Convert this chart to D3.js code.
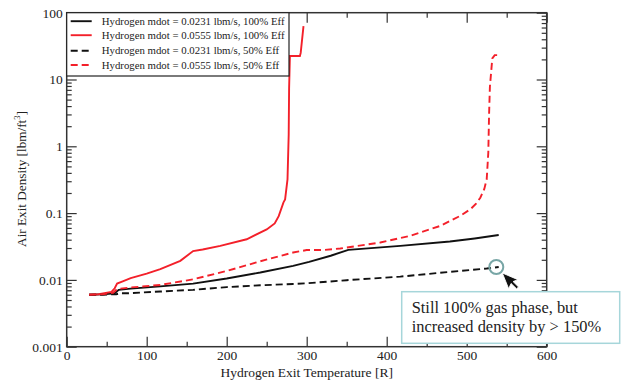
<!DOCTYPE html>
<html>
<head>
<meta charset="utf-8">
<script src="https://cdn.jsdelivr.net/npm/d3@7"></script>
<style>
  body { margin: 0; background: #fff; }
  svg, svg text { font-family: "Liberation Serif", "Times New Roman", Times, "DejaVu Serif", serif; }
</style>
</head>
<body>
<svg width="625" height="384">
  <g id="vis"></g>
</svg>
<script>
// series: hydrogen exit temperature [R] vs air exit density [lbm/ft^3]
const tempA100 = [28, 45, 60, 65, 80, 117, 158, 200, 242, 283, 303, 330, 352, 417, 479, 510, 540]
const densA100 = [0.006, 0.0061, 0.0063, 0.0071, 0.0074, 0.008, 0.0088, 0.0105, 0.0129, 0.0162, 0.0186, 0.023, 0.0281, 0.0323, 0.0375, 0.0417, 0.047]

const tempB100 = [28, 40, 56, 60, 63, 70, 80, 100, 117, 142, 158, 170, 192, 225, 250, 260, 265, 271, 273, 276, 277.5, 278, 279, 291.5, 292.5, 296]
const densB100 = [0.006, 0.0061, 0.0066, 0.0075, 0.0088, 0.0095, 0.0106, 0.0124, 0.0145, 0.0193, 0.027, 0.0285, 0.0323, 0.0406, 0.057, 0.07, 0.09, 0.145, 0.16, 0.32, 1.5, 7.3, 22.5, 22.5, 25, 63]

const tempA50 = [28, 45, 62, 66, 75, 117, 158, 200, 242, 283, 300, 350, 417, 479, 525, 540]
const densA50 = [0.006, 0.006, 0.0061, 0.0063, 0.0063, 0.0067, 0.0071, 0.0078, 0.0083, 0.0087, 0.0089, 0.0099, 0.0112, 0.0132, 0.0148, 0.0156]

const tempB50 = [28, 45, 58, 63, 80, 117, 158, 200, 242, 283, 300, 320, 342, 392, 429, 467, 492, 505, 512, 517, 522, 525, 527, 528, 529, 532, 535, 540]
const densB50 = [0.006, 0.0061, 0.0064, 0.0073, 0.0077, 0.0084, 0.0102, 0.0136, 0.019, 0.0257, 0.028, 0.028, 0.0295, 0.0363, 0.0455, 0.0643, 0.091, 0.115, 0.14, 0.17, 0.23, 0.32, 0.8, 3.1, 7.8, 20.7, 23.2, 23.2]

const legendLabels = [
  'Hydrogen mdot = 0.0231 lbm/s, 100% Eff',
  'Hydrogen mdot = 0.0555 lbm/s, 100% Eff',
  'Hydrogen mdot = 0.0231 lbm/s, 50% Eff',
  'Hydrogen mdot = 0.0555 lbm/s, 50% Eff'
]
const xTicks = [0, 100, 200, 300, 400, 500, 600]
const xMinorTicks = [50, 150, 250, 350, 450, 550]
const yTicks = [0.001, 0.01, 0.1, 1, 10, 100]
const calloutLines = ['Still 100% gas phase, but', 'increased density by > 150%']
const highlightPoint = [537, 0.0156]

const serif = '"Liberation Serif", "Times New Roman", Times, "DejaVu Serif", serif'

const series = [
  { t: tempA100, d: densA100, color: '#111', dash: null },
  { t: tempB100, d: densB100, color: '#f3202a', dash: null },
  { t: tempA50, d: densA50, color: '#111', dash: '7,4' },
  { t: tempB50, d: densB50, color: '#f3202a', dash: '7,4' }
]

const svg = d3.select('svg')
const vis = svg.select('#vis')
const margin = { top: 12.7, right: 78.3, bottom: 37.3, left: 66.7 }
const width = +svg.attr('width') - margin.left - margin.right
const height = +svg.attr('height') - margin.top - margin.bottom

const x = d3.scaleLinear().domain([0, 600]).range([0, width])
const y = d3.scaleLog().domain([0.001, 100]).range([height, 0])

// minor log ticks 2..9 per decade
const yMinorTicks = []
yTicks.slice(0, -1).forEach(function (v) {
  for (let k = 2; k <= 9; k++) yMinorTicks.push(v * k)
})

const plot = vis.append('g').attr('transform', `translate(${margin.left},${margin.top})`)

function styleAxis (g, labels) {
  g.attr('font-family', serif)
  g.select('.domain').remove()
  g.selectAll('.tick line').attr('stroke', '#333').attr('stroke-width', 1.2)
  g.selectAll('.tick text')
    .attr('font-family', serif)
    .attr('font-size', 13.5)
    .attr('fill', '#222')
  if (!labels) g.selectAll('.tick text').remove()
}

// bottom
plot.append('g').attr('transform', `translate(0,${height})`)
  .call(d3.axisBottom(x).tickValues(xTicks).tickSizeInner(-10).tickSizeOuter(0).tickPadding(4).tickFormat(d3.format('d')))
  .call(g => styleAxis(g, true))
plot.append('g').attr('transform', `translate(0,${height})`)
  .call(d3.axisBottom(x).tickValues(xMinorTicks).tickSizeInner(-5).tickSizeOuter(0))
  .call(g => styleAxis(g, false))
// top
plot.append('g')
  .call(d3.axisTop(x).tickValues(xTicks).tickSizeInner(-10).tickSizeOuter(0))
  .call(g => styleAxis(g, false))
plot.append('g')
  .call(d3.axisTop(x).tickValues(xMinorTicks).tickSizeInner(-5).tickSizeOuter(0))
  .call(g => styleAxis(g, false))
// left
plot.append('g')
  .call(d3.axisLeft(y).tickValues(yTicks).tickSizeInner(-10).tickSizeOuter(0).tickPadding(4).tickFormat(d => String(d)))
  .call(g => styleAxis(g, true))
plot.append('g')
  .call(d3.axisLeft(y).tickValues(yMinorTicks).tickSizeInner(-5).tickSizeOuter(0))
  .call(g => styleAxis(g, false))
// right
plot.append('g').attr('transform', `translate(${width},0)`)
  .call(d3.axisRight(y).tickValues(yTicks).tickSizeInner(-10).tickSizeOuter(0))
  .call(g => styleAxis(g, false))
plot.append('g').attr('transform', `translate(${width},0)`)
  .call(d3.axisRight(y).tickValues(yMinorTicks).tickSizeInner(-5).tickSizeOuter(0))
  .call(g => styleAxis(g, false))

// frame
plot.append('rect')
  .attr('width', width)
  .attr('height', height)
  .attr('fill', 'none')
  .attr('stroke', '#333')
  .attr('stroke-width', 1.5)

// lines
const line = d3.line()
  .x(d => x(d[0]))
  .y(d => y(d[1]))

plot.selectAll('.series')
  .data(series)
  .join('path')
  .attr('class', 'series')
  .attr('d', s => line(s.t.map((t, i) => [t, s.d[i]])))
  .attr('fill', 'none')
  .attr('stroke', s => s.color)
  .attr('stroke-width', 1.9)
  .attr('stroke-dasharray', s => s.dash)

// legend
const legend = plot.append('g')
legend.append('rect')
  .attr('x', 0)
  .attr('y', 0)
  .attr('width', 222.3)
  .attr('height', 63.3)
  .attr('fill', '#fff')
  .attr('stroke', '#222')
  .attr('stroke-width', 1.2)

const rowY = [8.5, 22.5, 38, 52.3]
const legendColors = ['#111', '#f3202a', '#111', '#f3202a']
const legendDash = [null, null, '7,4', '7,4']
legendLabels.forEach(function (lab, i) {
  legend.append('line')
    .attr('x1', 4).attr('x2', 25)
    .attr('y1', rowY[i]).attr('y2', rowY[i])
    .attr('stroke', legendColors[i])
    .attr('stroke-width', 1.9)
    .attr('stroke-dasharray', legendDash[i])
  legend.append('text')
    .attr('x', 35)
    .attr('y', rowY[i] + 3.8)
    .attr('font-family', serif)
    .attr('font-size', 10.8)
    .attr('fill', '#222')
    .text(lab)
})

// highlight circle + pointer
const cx = x(highlightPoint[0])
const cy = y(highlightPoint[1])
plot.append('circle')
  .attr('cx', cx)
  .attr('cy', cy)
  .attr('r', 7)
  .attr('fill', 'none')
  .attr('stroke', '#78a6a6')
  .attr('stroke-width', 2)

plot.append('path')
  .attr('transform', `translate(${cx + 6},${cy + 6}) rotate(-22)`)
  .attr('d', 'M0,0 L0,17 L4.2,13 L7.3,20 L9.8,19 L6.8,12 L12,12 Z')
  .attr('fill', '#111')
  .attr('stroke', '#fff')
  .attr('stroke-width', 0.8)

// callout box
const callout = vis.append('g')
callout.append('rect')
  .attr('x', 401.7)
  .attr('y', 291.7)
  .attr('width', 218)
  .attr('height', 51.6)
  .attr('fill', '#fff')
  .attr('stroke', '#a6d6da')
  .attr('stroke-width', 1.5)
calloutLines.forEach(function (t, i) {
  callout.append('text')
    .attr('x', 411.7)
    .attr('y', 313 + i * 18.5)
    .attr('font-family', serif)
    .attr('font-size', 16.4)
    .attr('fill', '#222')
    .text(t)
})

// axis titles
vis.append('text')
  .attr('x', margin.left + width / 2)
  .attr('y', 377)
  .attr('text-anchor', 'middle')
  .attr('font-family', serif)
  .attr('font-size', 13.5)
  .attr('fill', '#222')
  .text('Hydrogen Exit Temperature [R]')

const yTitle = vis.append('text')
  .attr('transform', 'translate(26,179) rotate(-90)')
  .attr('text-anchor', 'middle')
  .attr('font-family', serif)
  .attr('font-size', 13.2)
  .attr('fill', '#222')
yTitle.append('tspan').text('Air Exit Density [lbm/ft')
yTitle.append('tspan').attr('dy', -6).attr('font-size', 8.5).text('3')
yTitle.append('tspan').attr('dy', 6).text(']')
</script>
</body>
</html>
